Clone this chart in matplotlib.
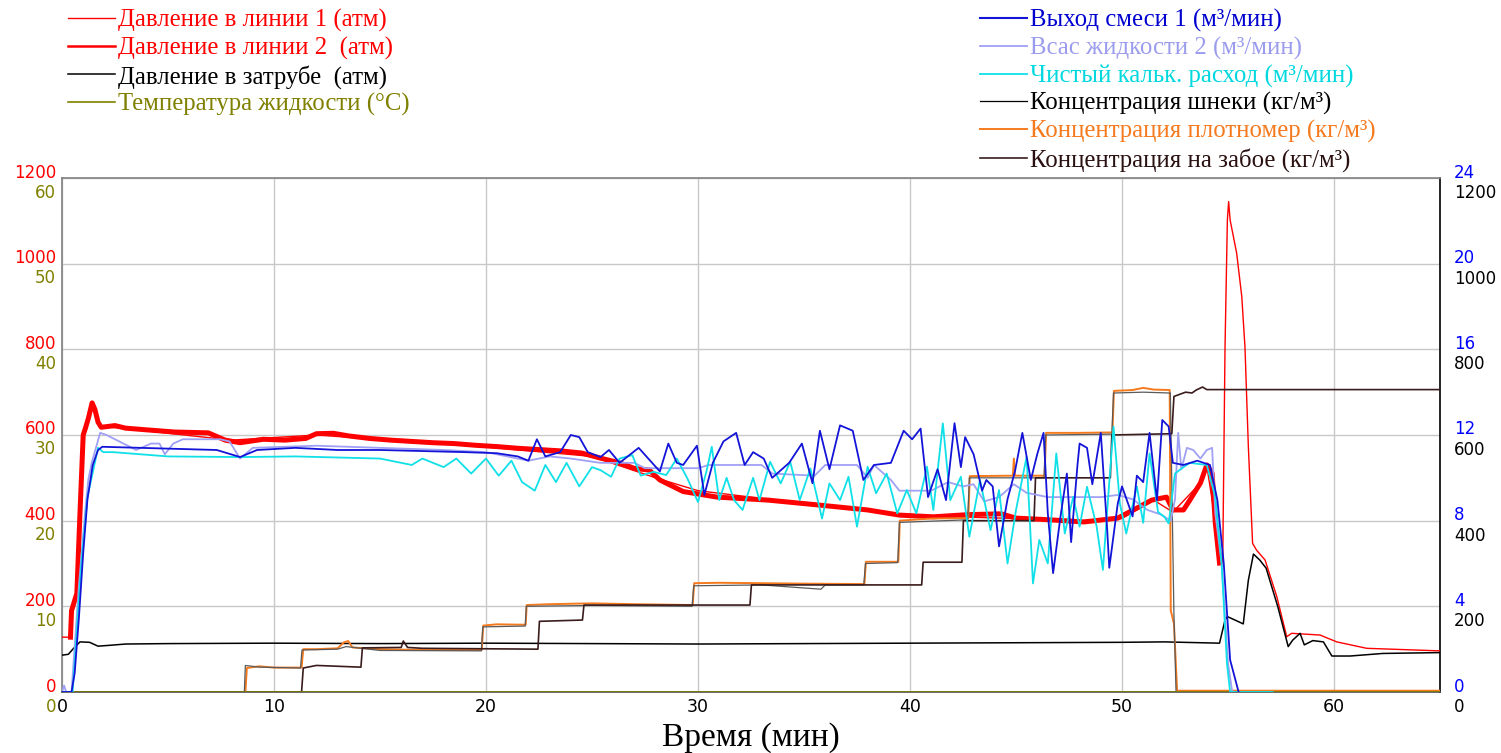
import matplotlib
matplotlib.use("Agg")
import matplotlib.pyplot as plt
from matplotlib.lines import Line2D
from matplotlib import transforms as mtransforms

# ---------------- data (time in minutes) ----------------
# Давление в линии 1 (атм) - thin red
t_p1 = [0, 0.38, 0.42, 0.5, 0.7, 0.85, 1.0, 1.42, 1.8, 3, 8, 12, 20, 25, 28, 30, 35, 40, 45, 48,
        50, 51.5, 52.4, 53.7, 54.0, 54.4, 54.75, 54.86, 54.97, 55.03, 55.1, 55.41, 55.65, 55.8,
        55.96, 56.16, 56.35, 56.75, 57.3, 57.77, 58.0, 59.34, 60.13, 61.54, 65]
p1 = [128, 128, 190, 195, 235, 420, 600, 670, 620, 615, 588, 600, 572, 550, 500, 470, 440, 412, 405, 400,
      405, 448, 420, 488, 528, 400, 300, 806, 1102, 1145, 1102, 1024, 923, 806,
      573, 347, 331, 308, 223, 129, 137, 133, 117, 102, 96]

# Давление в линии 2 (атм) - noisy thick red (band centre)
t_p2 = [0.40, 0.45, 0.70, 0.85, 1.00, 1.10, 1.25, 1.42, 1.55, 1.70, 1.85, 2.5, 3.0, 4.0, 5.3, 6.9, 7.7,
        8.4, 9.5, 10.5, 11.5, 12.0, 12.8, 13.5, 14.5, 15.5, 16.5, 17.5, 18.5, 19.5, 20.5, 21.5, 22.5,
        23.5, 24.5, 25.4, 26.3, 27.0, 27.7, 28.2, 29.3, 30.9, 33.3, 35.6, 38.0, 39.5, 41.1, 42.7, 44.3,
        45.0, 46.6, 48.2, 49.8, 50.8, 51.4, 52.1, 52.4, 52.9, 53.2, 53.7, 54.0, 54.25, 54.4, 54.6]
p2 = [128, 190, 230, 420, 600, 615, 640, 675, 660, 630, 618, 622, 616, 612, 607, 605, 588,
      582, 590, 588, 592, 603, 604, 598, 592, 588, 585, 582, 580, 576, 573, 569, 566,
      563, 558, 546, 535, 522, 518, 495, 468, 455, 448, 437, 425, 413, 409, 414, 416,
      406, 402, 397, 406, 432, 448, 455, 425, 425, 448, 488, 530, 511, 395, 301]

# Давление в затрубе (атм)
t_pz = [0, 0.3, 0.6, 0.85, 1.3, 1.7, 2.25, 3, 5, 10, 15, 20, 25, 30, 35, 40, 45, 50, 52, 54.6,
        54.86, 54.97, 55.33, 55.72, 55.96, 56.2, 56.5, 56.8, 57.35, 57.84, 58.05, 58.4, 58.6,
        59.0, 59.5, 59.9, 60.76, 62.3, 65]
pz = [86, 88, 105, 117, 116, 107, 109, 112, 113, 114, 113, 114, 113, 112, 113, 114, 115, 116, 117, 114,
      168, 176, 168, 159, 261, 322, 308, 289, 199, 106, 121, 137, 110,
      120, 117, 84, 84, 90, 92]

# Температура жидкости (°C)
t_temp = [0, 65]
temp = [0, 0]

# Выход смеси 1 (м³/мин)
t_q1 = [0, 0.45, 0.6, 0.8, 1.0, 1.2, 1.45, 1.7, 1.9, 3.7, 5.5, 7.3, 7.8, 8.4, 9.2, 11, 13, 15, 17, 19,
        20.5, 21.5, 22.0, 22.4, 22.8, 23.5, 24.0, 24.4, 24.8, 25.4, 25.8, 26.3, 27.2, 28.2, 28.6, 29.0,
        29.3, 29.95, 30.3, 30.7, 31.2, 31.8, 32.2, 32.6, 33.1, 33.5, 34.3, 34.9, 35.4, 35.75, 36.2,
        36.7, 37.3, 37.8, 38.3, 39.1, 39.7, 40.1, 40.5, 40.85, 41.3, 41.7, 42.1, 42.4, 42.6, 43.0,
        43.4, 43.6, 43.9, 44.2, 44.6, 44.95, 45.3, 45.7, 46.0, 46.3, 46.5, 46.75, 47.1, 47.4, 47.6,
        47.9, 48.0, 48.35, 48.6, 49.0, 49.3, 49.4, 49.8, 50.0, 50.5, 50.7, 51.0, 51.3, 51.65, 51.9,
        52.2, 52.4, 52.9, 53.55, 54.15, 54.5, 54.8, 55.1, 55.5]
q1 = [0, 0, 0.9, 3.5, 6.5, 9.0, 10.6, 11.3, 11.45, 11.4, 11.35, 11.3, 11.15, 10.97, 11.3, 11.4, 11.3, 11.3, 11.25, 11.2,
      11.15, 11.0, 10.8, 11.8, 11.0, 11.2, 12.0, 11.9, 11.2, 10.97, 11.3, 10.7, 11.4, 10.3, 11.6, 10.7,
      10.6, 11.5, 9.2, 10.7, 11.7, 12.1, 10.6, 11.2, 10.9, 10.0, 10.7, 11.6, 9.75, 12.2, 10.4,
      12.45, 12.2, 9.9, 10.6, 10.7, 12.2, 11.8, 12.3, 9.1, 10.4, 8.96, 12.55, 10.5, 11.9, 11.1,
      9.4, 9.9, 9.6, 6.8, 9.0, 10.3, 12.1, 9.9, 11.1, 12.1, 8.35, 5.55, 8.2, 10.2, 7.0,
      10.6, 11.6, 11.4, 9.7, 12.1, 7.6, 5.8, 8.8, 9.6, 8.2, 10.1, 9.8, 12.1, 8.96, 12.7,
      12.4, 10.7, 10.6, 10.8, 10.6, 8.96, 6.0, 1.5, 0]

# Всас жидкости 2 (м³/мин)
t_q2 = [0, 0.1, 0.2, 0.45, 0.8, 1.1, 1.24, 1.4, 1.8, 2.1, 2.9, 3.5, 4.2, 4.6, 4.85, 5.25, 5.7, 7.45, 7.9,
        8.4, 9.0, 12, 15, 18, 20, 21, 22, 23, 24, 25.4, 27, 27.5, 30, 30.5, 33, 33.5, 35.5, 36, 37.5,
        38, 38.3, 39.1, 39.5, 41, 41.8, 42.5, 43, 43.5, 44.2, 44.9, 45.5, 46.5, 49, 49.8, 50.5, 51.2,
        51.8, 52.3, 52.5, 52.65, 52.8, 53.06, 53.36, 53.7, 54.0, 54.25, 54.4, 54.7, 55.0, 55.2]
q2 = [0, 0.3, 0, 0, 5, 8.5, 9.9, 10.7, 12.1, 12.0, 11.6, 11.3, 11.6, 11.6, 11.1, 11.6, 11.8, 11.8, 11.7,
      10.9, 11.4, 11.5, 11.4, 11.3, 11.2, 11.0, 10.8, 11.0, 10.9, 10.7, 10.7, 10.45, 10.45, 10.6, 10.6, 10.2, 10.1, 10.6, 10.6,
      10.0, 10.6, 9.9, 9.4, 9.4, 9.8, 9.6, 9.7, 8.9, 9.1, 9.7, 9.3, 9.1, 9.1, 9.2, 9.0, 8.5,
      8.3, 8.0, 9.0, 12.1, 10.4, 11.4, 11.3, 10.9, 11.3, 11.4, 8.35, 6.0, 1.35, 0]

# Чистый кальк. расход (м³/мин)
t_q3 = [0, 0.5, 0.93, 1.2, 1.7, 1.95, 2.4, 5, 8.4, 11, 13, 15, 16.5, 17, 18, 18.6, 19.3, 20, 20.6, 21.2,
        21.7, 22.3, 22.8, 23.3, 23.8, 24.4, 25.0, 25.4, 25.9, 26.3, 26.9, 27.3, 27.9, 28.5, 29.0, 29.5,
        30.0, 30.4, 30.65, 31.0, 31.35, 31.7, 32.1, 32.6, 32.9, 33.4, 33.9, 34.35, 34.8, 35.3, 35.85,
        36.2, 36.7, 37.1, 37.5, 38.0, 38.4, 38.9, 39.4, 39.85, 40.3, 40.8, 41.1, 41.55, 41.9, 42.4,
        42.8, 43.3, 43.8, 44.2, 44.6, 45.0, 45.5, 45.8, 46.1, 46.5, 46.9, 47.3, 47.7, 48.0, 48.35,
        48.8, 49.1, 49.4, 49.6, 49.9, 50.2, 50.7, 51.0, 51.3, 51.7, 52.0, 52.2, 52.5, 52.9, 53.2,
        54.0, 54.4, 54.7, 54.95, 55.1, 57.1]
q3 = [0, 0, 6.2, 9.1, 11.4, 11.2, 11.2, 11.0, 10.97, 11.0, 10.95, 10.9, 10.6, 10.9, 10.5, 10.9, 10.2, 10.9, 10.1, 10.8,
      9.8, 9.4, 10.6, 9.8, 10.7, 9.6, 10.5, 10.36, 10.05, 10.9, 11.06, 10.1, 10.28, 10.13, 10.9, 9.97,
      8.87, 10.3, 11.45, 8.96, 10.0, 8.96, 8.5, 10.0, 8.96, 10.75, 9.74, 10.75, 8.96, 10.44, 8.1,
      9.74, 8.96, 10.05, 7.72, 10.52, 9.28, 10.2, 8.34, 9.43, 8.34, 10.52, 8.5, 12.54, 8.96, 10.05,
      7.25, 9.9, 7.56, 9.43, 6.0, 8.5, 10.98, 5.07, 7.1, 6.0, 11.14, 7.4, 9.12, 7.72, 9.58,
      7.75, 5.7, 9.8, 12.39, 8.8, 7.4, 9.6, 7.9, 11.14, 8.4, 8.18, 7.87, 10.2, 10.5, 10.7,
      10.6, 9.1, 6.0, 1.35, 0, 0]

# Концентрация шнеки (кг/м³)
t_cs = [0, 8.6, 8.65, 9.3, 11.25, 11.32, 13, 13.4, 15, 19.78, 19.85, 21.85, 21.9, 25, 29.72, 29.8, 33,
        35.8, 36, 37.82, 37.9, 39.42, 39.5, 42.72, 42.8, 46.32, 46.4, 49.52, 49.6, 51, 52.28, 52.45,
        52.55, 65]
cs = [0, 0, 62, 58, 56, 98, 100, 106, 97, 96, 152, 154, 200, 202, 200, 248, 250,
      240, 250, 250, 300, 302, 396, 402, 500, 500, 600, 602, 698, 700, 698, 180,
      0, 0]

# Концентрация плотномер (кг/м³)
t_co = [0, 8.65, 8.72, 9.0, 9.3, 10, 11.3, 11.38, 12, 13.0, 13.3, 13.5, 13.7, 15, 17, 19.8, 19.87, 20.5,
        21.87, 21.92, 23, 25, 27, 29.75, 29.82, 31, 33, 35, 37.85, 37.92, 39.45, 39.52, 41, 42.75,
        42.82, 44.85, 44.9, 44.95, 46.35, 46.42, 48, 49.55, 49.62, 50.5, 51, 51.5, 52.25, 52.3, 52.45,
        52.6, 65]
co = [0, 0, 56, 58, 60, 57, 57, 100, 100, 102, 116, 119, 104, 100, 98, 98, 155, 158,
      157, 203, 205, 207, 205, 203, 254, 255, 254, 253, 252, 304, 304, 400, 405, 406,
      504, 505, 545, 505, 505, 605, 605, 606, 703, 705, 710, 706, 705, 190, 160,
      3, 3]

# Концентрация на забое (кг/м³)
t_cb = [0, 11.3, 11.38, 12, 14.1, 14.17, 16.0, 16.1, 16.3, 17, 22.45, 22.52, 24.55, 24.62, 27, 32.45,
        32.52, 40.55, 40.62, 42.45, 42.52, 45.85, 45.92, 49.45, 49.52, 52.35, 52.45, 53.0, 53.3, 53.5,
        53.8, 54.0, 65]
cb = [0, 0, 56, 62, 58, 103, 104, 119, 104, 102, 100, 165, 168, 203, 203, 203,
      250, 250, 303, 303, 400, 400, 500, 500, 600, 603, 690, 700, 698, 705,
      712, 706, 706]

# axis ticks
x_ticks = [0, 10, 20, 30, 40, 50, 60]
p_ticks = [0, 200, 400, 600, 800, 1000, 1200]
temp_ticks = [0, 10, 20, 30, 40, 50, 60]
q_ticks = [0, 4, 8, 12, 16, 20, 24]
c_ticks = [0, 200, 400, 600, 800, 1000, 1200]

legend_left = ["Давление в линии 1 (атм)", "Давление в линии 2  (атм)",
               "Давление в затрубе  (атм)", "Температура жидкости (°C)"]
legend_right = ["Выход смеси 1 (м³/мин)", "Всас жидкости 2 (м³/мин)",
                "Чистый кальк. расход (м³/мин)", "Концентрация шнеки (кг/м³)",
                "Концентрация плотномер (кг/м³)", "Концентрация на забое (кг/м³)"]

# ---------------- style ----------------
RED = "#FF0000"
OLIVE = "#808000"
BLUE = "#1414D8"
LAV = "#A0A0F4"
CYAN = "#10E0E8"
ORANGE = "#F57A1E"
GRAY = "#5A5A5A"
BROWN = "#3A1C1C"
SERIF = "Liberation Serif"
SANS = "DejaVu Sans"

W, H = 1501, 753
fig = plt.figure(figsize=(W / 100, H / 100), dpi=100)
L, R, T, B = 62, 1440, 178, 692
ax = fig.add_axes([L / W, 1 - B / H, (R - L) / W, (B - T) / H])
ax.set_xlim(0, 65)
ax.set_ylim(0, 1200)
ax.set_xticks(x_ticks)
ax.set_yticks(p_ticks)
ax.grid(True, color="#C8C8C8", lw=1.0)
ax.set_axisbelow(True)
ax.tick_params(axis="y", length=0, labelleft=False)
ax.tick_params(axis="x", length=0, labelsize=12.5, pad=4, colors="black")
for lab in ax.get_xticklabels():
    lab.set_family(SANS)
for s in ["left", "top"]:
    ax.spines[s].set_color("#808080")
ax.spines["bottom"].set_color("#505050")
ax.spines["right"].set_color("black")
for s in ax.spines.values():
    s.set_linewidth(1.2)

ax_c = ax.twinx()
ax_t = ax.twinx()
ax_q = ax.twinx()
for a, lim in ((ax_c, 1200), (ax_t, 60), (ax_q, 24)):
    a.set_ylim(0, lim)
    a.set_xlim(0, 65)
    a.tick_params(left=False, right=False, labelleft=False, labelright=False)
    for s in a.spines.values():
        s.set_visible(False)

# pressure lines
ax.plot(t_p1, p1, color=RED, lw=1.0, zorder=3)
ax.plot(t_p2, p2, color=RED, lw=3.6, zorder=4)
ax.plot(t_pz, pz, color="black", lw=1.1, zorder=5)

# concentrations
ax_c.plot(t_co, co, color=ORANGE, lw=1.4)
ax_c.plot(t_cs, cs, color=GRAY, lw=0.9)
ax_c.plot(t_cb, cb, color=BROWN, lw=1.2)

# temperature
ax_t.plot(t_temp, temp, color=OLIVE, lw=1.2)

# flows
ax_q.plot(t_q2, q2, color=LAV, lw=1.3)
ax_q.plot(t_q3, q3, color=CYAN, lw=1.3)
ax_q.plot(t_q1, q1, color=BLUE, lw=1.3)

# ---------------- axis labels (two per side) ----------------
def side_labels(axis, ticks, color, xpos, dx_px, dy_px, ha):
    tr = mtransforms.blended_transform_factory(ax.transAxes, axis.transData) + \
        mtransforms.ScaledTranslation(dx_px / 100, dy_px / 100, fig.dpi_scale_trans)
    for v in ticks:
        ax.text(xpos, v, str(v), transform=tr, ha=ha, va="center", color=color,
                fontsize=12, family=SANS, clip_on=False)

side_labels(ax, p_ticks, RED, 0, -6, 5.5, "right")
side_labels(ax_t, temp_ticks, OLIVE, 0, -6, -14.5, "right")
side_labels(ax_q, q_ticks, "#0000FF", 1, 14, 5.5, "left")
side_labels(ax_c, c_ticks, "black", 1, 14, -15, "left")

ax.set_xlabel("Время (мин)", fontsize=24, family=SERIF)
ax.xaxis.set_label_coords(0.5, (B - 738) / (B - T))
ax.xaxis.label.set_va("center")

# ---------------- legends ----------------
h_left = [Line2D([], [], color=RED, lw=1.0), Line2D([], [], color=RED, lw=1.8),
          Line2D([], [], color="black", lw=1.1), Line2D([], [], color=OLIVE, lw=1.2)]
c_left = [RED, RED, "black", OLIVE]
h_right = [Line2D([], [], color=BLUE, lw=1.5), Line2D([], [], color=LAV, lw=1.3),
           Line2D([], [], color=CYAN, lw=1.3), Line2D([], [], color="black", lw=0.9),
           Line2D([], [], color=ORANGE, lw=1.4), Line2D([], [], color=BROWN, lw=1.2)]
c_right = ["#0000D0", "#9C9CEE", "#00D8E0", "black", ORANGE, "#2A1010"]

FS = 17.8
common = dict(loc="upper left", frameon=False, prop={"family": SERIF, "size": FS},
              handlelength=2.0 * 17 / FS, handletextpad=0.1, labelspacing=0.19,
              borderpad=0, borderaxespad=0)
fig.legend(h_left, legend_left, bbox_to_anchor=(68 / W, 1 - 9 / H), labelcolor=c_left, **common)
fig.legend(h_right, legend_right, bbox_to_anchor=(980 / W, 1 - 9 / H), labelcolor=c_right, **common)

fig.savefig("out.png", dpi=100)
